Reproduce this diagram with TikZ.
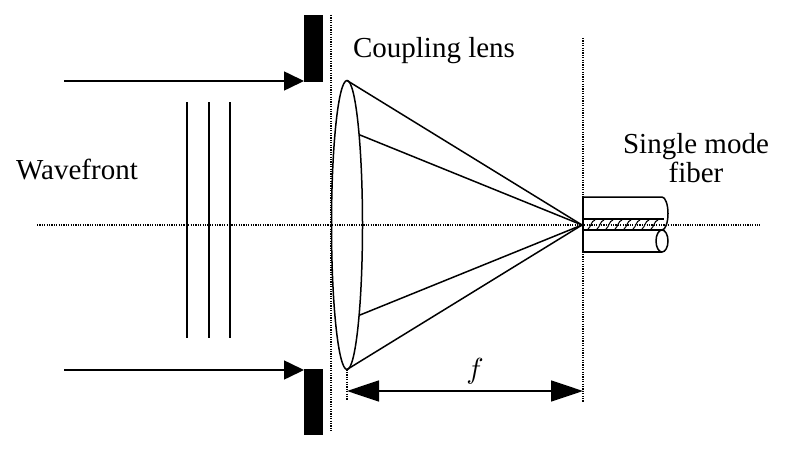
\documentclass[tikz,border=0pt]{standalone}
\usepackage{fontspec}
\setmainfont{Liberation Serif}
\usetikzlibrary{arrows.meta}
\begin{document}
\begin{tikzpicture}[x=1pt,y=-1pt,
  lbl/.style={font=\fontsize{29}{30}\selectfont, inner sep=0pt},
  dotline/.style={line width=1.3pt, dash pattern=on 1.2pt off 1.2pt},
  ray/.style={line width=1.5pt},
  bigarrow/.style={line width=1.6pt, -{Triangle[length=20pt,width=19pt]}},
  dimarrow/.style={line width=1.6pt, {Triangle[length=32pt,width=21pt]}-{Triangle[length=32pt,width=21pt]}},
  plate/.style={fill=black, draw=black}]
\useasboundingbox (0,0) rectangle (800,452);
% key points
\coordinate (focus) at (582,225);
\coordinate (ltop) at (347,80.5);
\coordinate (lbot) at (347,369.5);
\coordinate (itop) at (360,135);
\coordinate (ibot) at (360,315);
% axis
\coordinate (axL) at (37,225);
\coordinate (axR) at (760,225);
\draw[dotline] (axL) -- (axR);
% vertical dotted lines
\coordinate (v1t) at (331,15);
\coordinate (v1b) at (331,432);
\draw[dotline] (v1t) -- (v1b);
\coordinate (v2t) at (583,38);
\coordinate (v2b) at (583,402);
\draw[dotline] (v2t) -- (v2b);
\coordinate (v3b) at (347,400);
\draw[dotline] (lbot) -- (v3b);
% plates
\draw[plate] (304,15) rectangle (322,81);
\draw[plate] (304,369) rectangle (322,434);
\coordinate (a1s) at (64,81);
\coordinate (a1e) at (304,81);
\coordinate (a2s) at (64,370);
\coordinate (a2e) at (304,370);
\draw[bigarrow] (a1s) -- (a1e);
\draw[bigarrow] (a2s) -- (a2e);
% wavefronts
\foreach \x in {187,209,230} \draw[ray] (\x,102) -- (\x,338);
% lens
\draw[ray] (347,225) ellipse [x radius=15.5, y radius=144.5];
% rays
\draw[ray] (ltop) -- (focus) -- (lbot);
\draw[ray] (itop) -- (focus) -- (ibot);
% fiber
\draw[ray] (583,197) -- (662,197) arc[start angle=-90, end angle=90, x radius=6, y radius=16.5];
\draw[ray] (583,197) -- (583,252) -- (662,252);
\draw[ray] (583,219) -- (664,219);
\draw[ray] (583,230) -- (662,230);
\draw[ray] (662,241) ellipse [x radius=6, y radius=11];
\foreach \x in {588,597,...,652} \draw[line width=1pt] (\x,229) .. controls (\x+3,227) and (\x+3,221) .. (\x+7,220);
% dimension
\coordinate (dL) at (347,391);
\coordinate (dR) at (583,391);
\draw[dimarrow] (dL) -- (dR);
\node[inner sep=0pt] (flab) at (475,371) {\scalebox{2.9}{$f$}};
% labels
\node[lbl, anchor=base] (wf) at (77,179) {Wavefront};
\node[lbl, anchor=base] (cl) at (434,57) {Coupling lens};
\node[lbl, anchor=base] (smf) at (696,153) {Single mode};
\node[lbl, anchor=base] (smf2) at (696,182) {fiber};
\end{tikzpicture}
\end{document}
